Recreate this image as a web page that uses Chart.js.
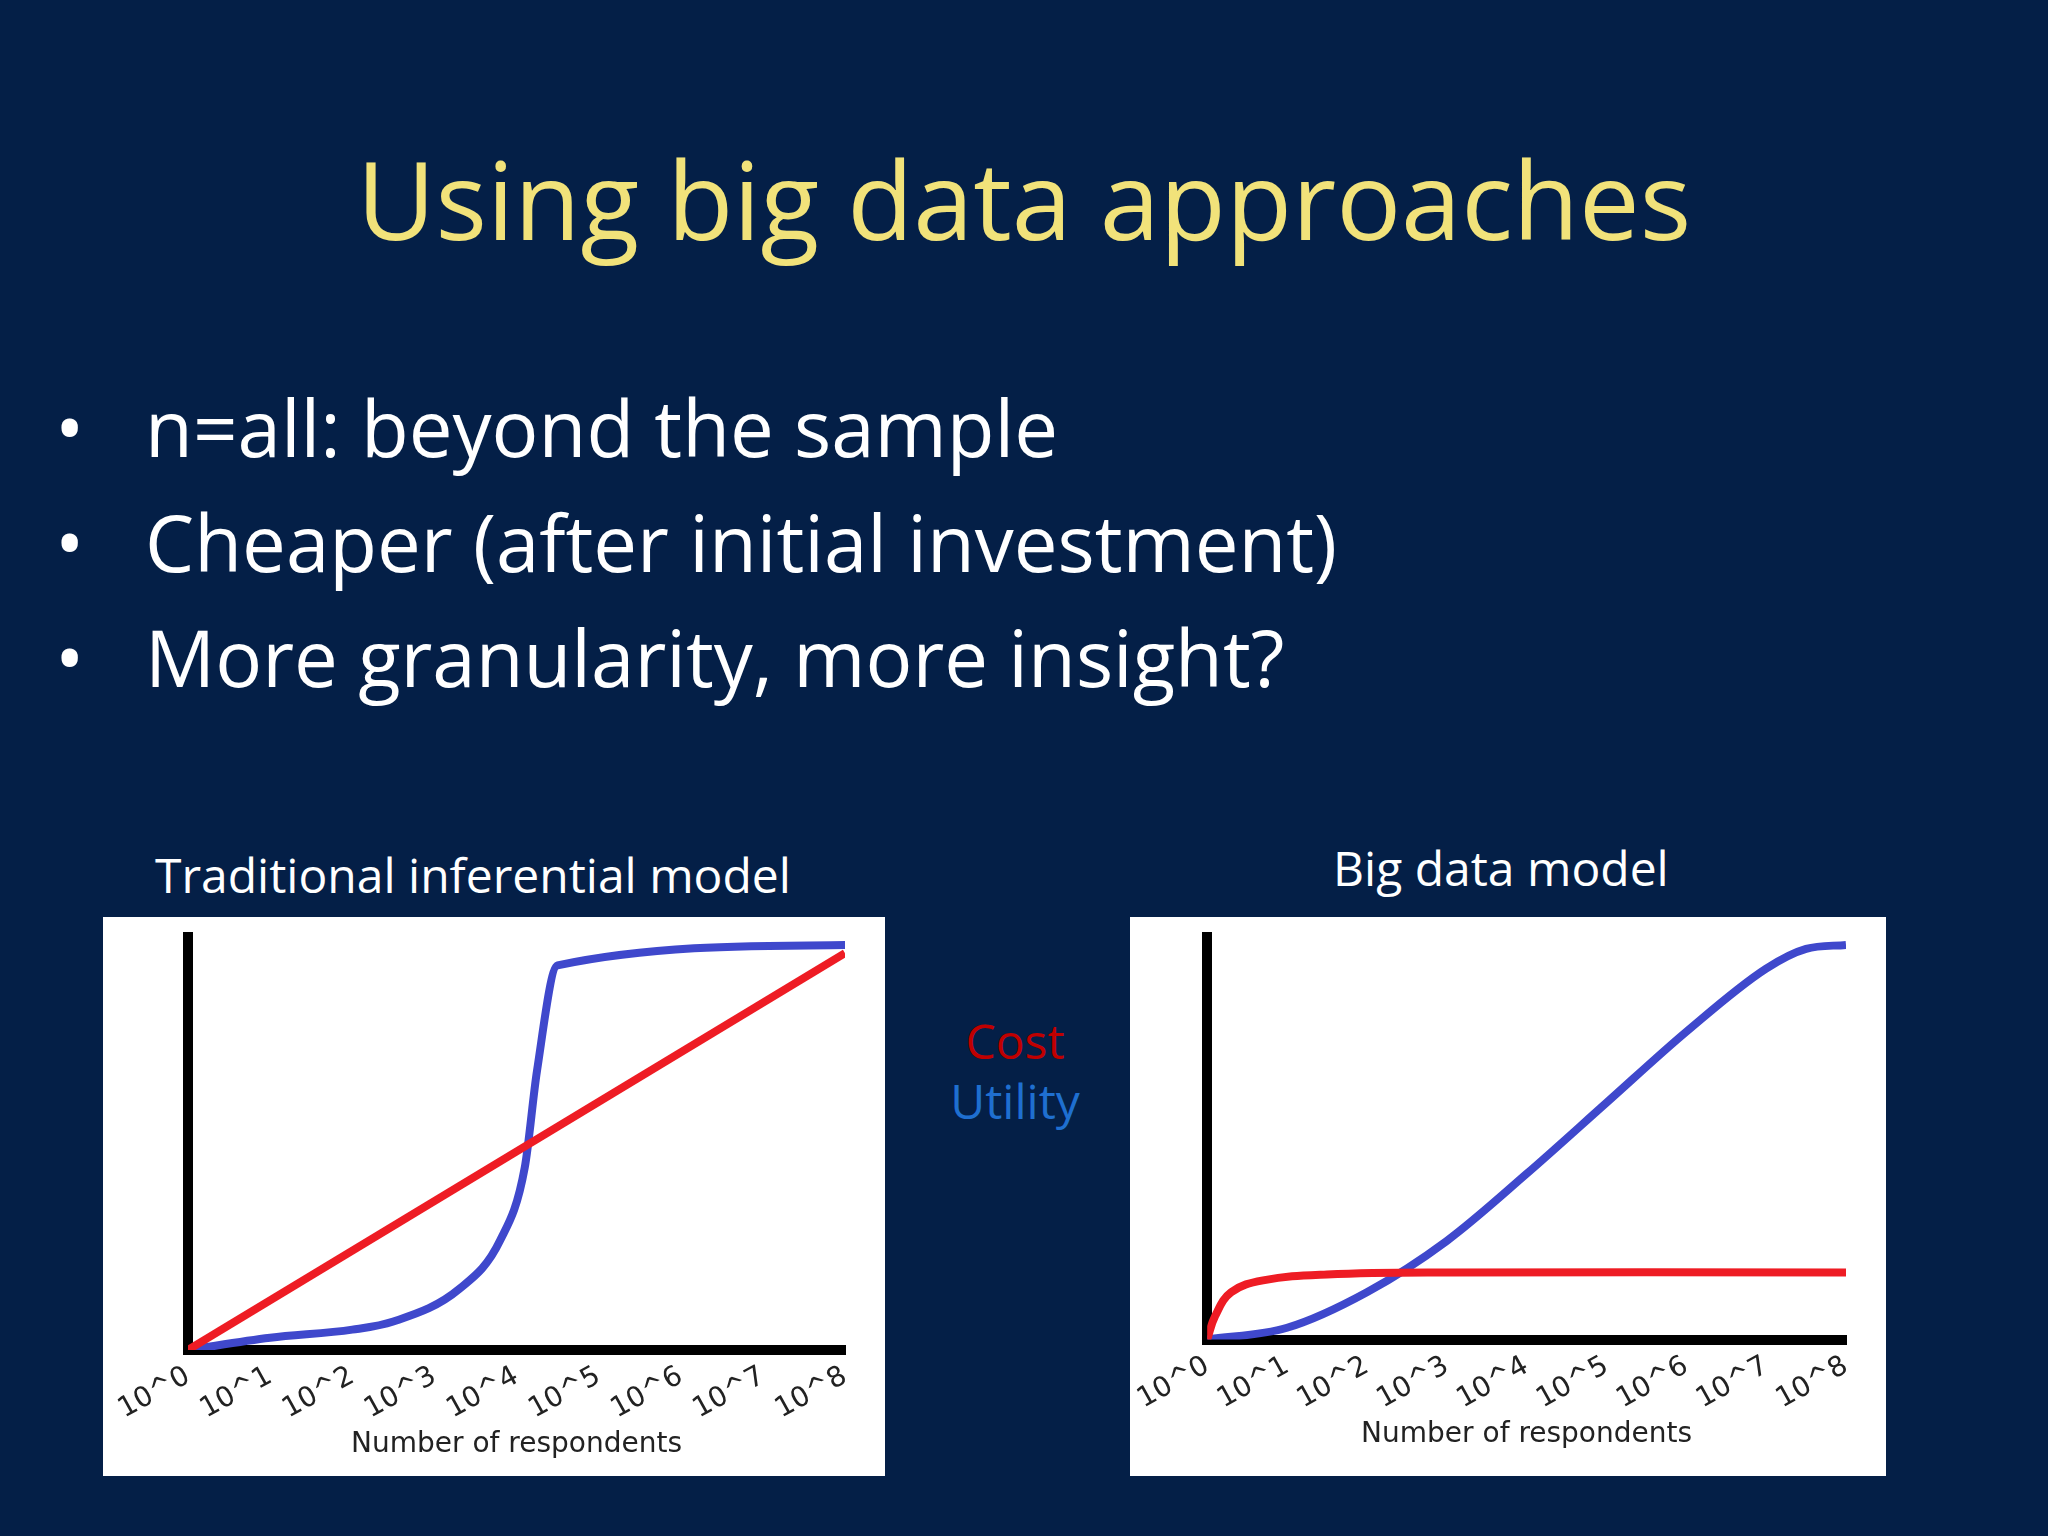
<!DOCTYPE html>
<html><head><meta charset="utf-8">
<script src="https://cdn.jsdelivr.net/npm/chart.js@4"></script>
<style>
body{margin:0;width:2048px;height:1536px;background:#041f47;font-family:"Open Sans","Noto Sans",sans-serif;position:relative;overflow:hidden}
.t{position:absolute;white-space:nowrap}
.box{position:absolute;background:#fff}
</style></head><body>
<div class="t" style="left:0;width:2048px;text-align:center;top:125px;font-size:108px;color:#f1e27a">Using big data approaches</div>
<div class="t" style="left:55px;top:370px;font-size:78px;color:#fff;line-height:115px">•&nbsp;&nbsp;&nbsp;n=all: beyond the sample<br>•&nbsp;&nbsp;&nbsp;Cheaper (after initial investment)<br>•&nbsp;&nbsp;&nbsp;More granularity, more insight?</div>
<div class="t" style="left:155px;top:842px;font-size:48px;color:#fff">Traditional inferential model</div>
<div class="t" style="left:1333px;top:835px;font-size:48px;color:#fff">Big data model</div>
<div class="t" style="left:950px;top:1008px;width:130px;text-align:center;font-size:48px;color:#c00000">Cost</div>
<div class="t" style="left:930px;top:1068px;width:170px;text-align:center;font-size:48px;color:#1f6fd0">Utility</div>
<div class="box" style="left:103px;top:917px;width:782px;height:559px"><canvas id="c1"></canvas></div>
<div class="box" style="left:1130px;top:917px;width:756px;height:559px"><canvas id="c2"></canvas></div>
<script>
const tickLabels=["10^0","10^1","10^2","10^3","10^4","10^5","10^6","10^7","10^8"];
const leftCostX=[0,8], leftCostY=[0,0.98];
const leftUtilX=[0,1,2,2.5,3.3,3.8,4.1,4.25,4.5,8];
const leftUtilY=[0,0.03,0.05,0.07,0.15,0.27,0.45,0.69,0.95,1.0];
const rightCostX=[0,0.1,0.3,0.7,1.5,3,8];
const rightCostY=[0,0.06,0.12,0.15,0.165,0.17,0.17];
const rightUtilX=[0,1,2,3,4,5,6,7,7.5,8];
const rightUtilY=[0,0.03,0.12,0.25,0.42,0.6,0.78,0.94,0.99,1.0];
const pts=(xs,ys)=>xs.map((x,i)=>({x,y:ys[i]}));
function make(id,cx,cy,ux,uy,tension,pad){
 new Chart(document.getElementById(id),{type:'scatter',
  data:{datasets:[
   {data:pts(cx,cy),showLine:true,borderColor:'#ee1c24',borderWidth:8,pointRadius:0,tension:tension},
   {data:pts(ux,uy),showLine:true,borderColor:'#3f48cc',borderWidth:8,pointRadius:0,tension:0.4,cubicInterpolationMode:'monotone'}]},
  options:{responsive:false,animation:false,devicePixelRatio:1,
   layout:{padding:pad},
   plugins:{legend:{display:false},tooltip:{enabled:false}},
   scales:{
    x:{type:'linear',min:0,max:8,grid:{display:false,drawTicks:false},border:{display:true,color:'#000',width:10},
       ticks:{stepSize:1,color:'#222',font:{size:28,family:'DejaVu Sans'},padding:10,callback:v=>tickLabels[v]},
       title:{display:true,text:'Number of respondents',color:'#222',font:{size:28,family:'DejaVu Sans'},padding:{top:-8}}},
    y:{min:0,max:1.02,grid:{display:false,drawTicks:false},border:{display:true,color:'#000',width:10},ticks:{display:false}}
   }}});
}
const c1=document.getElementById('c1');c1.width=782;c1.height=559;
const c2=document.getElementById('c2');c2.width=756;c2.height=559;
make('c1',leftCostX,leftCostY,leftUtilX,leftUtilY,0,{left:85,right:40,top:20,bottom:10});
make('c2',rightCostX,rightCostY,rightUtilX,rightUtilY,0.4,{left:65,right:40,top:20,bottom:20});
</script>
</body></html>
